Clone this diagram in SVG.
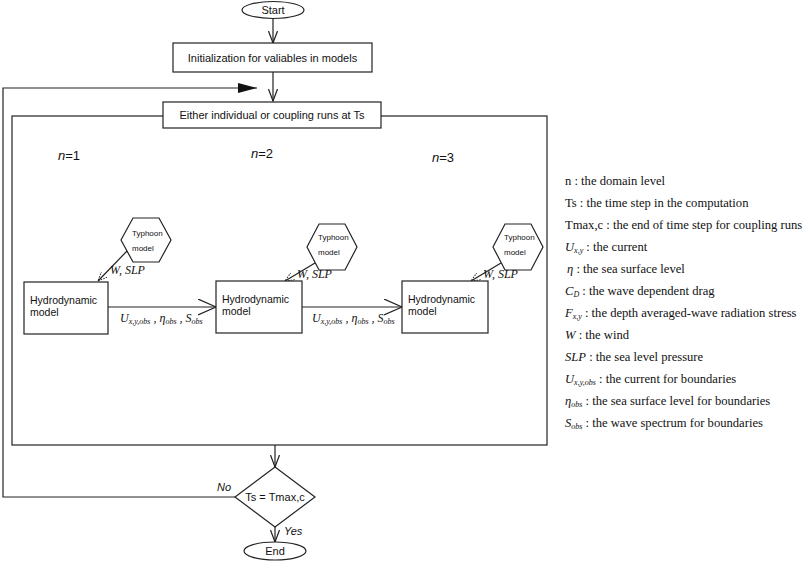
<svg xmlns="http://www.w3.org/2000/svg" width="805" height="562" viewBox="0 0 805 562">
<style>
.s{fill:none;stroke:#222;stroke-width:1.2}
.b{fill:#fff;stroke:#222;stroke-width:1.2}
.t{font-family:"Liberation Sans",Arial,sans-serif;font-size:11px;fill:#111}
.h{font-family:"Liberation Sans",Arial,sans-serif;font-size:10.5px;fill:#111}
.ty{font-family:"Liberation Sans",Arial,sans-serif;font-size:8px;fill:#111}
.n{font-family:"Liberation Sans",Arial,sans-serif;font-size:13px;fill:#111}
.i{font-style:italic}
.r{font-family:"Liberation Serif","Times New Roman",serif;font-size:12.6px;fill:#111}
.m{font-family:"Liberation Serif","Times New Roman",serif;font-size:12px;font-style:italic;fill:#111}
.sub{font-size:8px}
</style>
<defs>
<marker id="v" markerUnits="userSpaceOnUse" markerWidth="14" markerHeight="10" refX="12" refY="4.5" orient="auto">
<path d="M0,0 L12,4.5 L0,9" fill="none" stroke="#222" stroke-width="1.2"/>
</marker>
<marker id="vb" markerUnits="userSpaceOnUse" markerWidth="20" markerHeight="18" refX="18" refY="8" orient="auto">
<path d="M0,0 L18,8 L0,16" fill="none" stroke="#222" stroke-width="1.2"/>
</marker>
<marker id="f" markerUnits="userSpaceOnUse" markerWidth="20" markerHeight="12" refX="19" refY="5" orient="auto">
<path d="M0,0 L19,5 L0,10 z" fill="#111"/>
</marker>
<marker id="d" markerUnits="userSpaceOnUse" markerWidth="12" markerHeight="10" refX="9" refY="4" orient="auto">
<path d="M0,0 L9,4 L0,8" fill="none" stroke="#222" stroke-width="1" stroke-dasharray="1.5 1.2"/>
</marker>
</defs>

<g id="frame">
<rect class="s" x="12" y="116" width="535" height="329" stroke="#444"/>
</g>

<g id="connectors">
<line class="s" x1="273" y1="19" x2="273" y2="43" marker-end="url(#v)"/>
<line class="s" x1="273" y1="72" x2="273" y2="101" marker-end="url(#v)"/>
<path class="s" d="M235,497 H3 V88 H257" stroke="#444" marker-end="url(#f)"/>
<line class="s" x1="275" y1="445" x2="275" y2="467" marker-end="url(#v)"/>
<line class="s" x1="275" y1="527" x2="275" y2="542" marker-end="url(#v)"/>
<line class="s" x1="108" y1="307" x2="216" y2="307" marker-end="url(#vb)"/>
<line class="s" x1="302" y1="307" x2="402" y2="307" marker-end="url(#vb)"/>
<line class="s" x1="127" y1="251" x2="98" y2="281" marker-end="url(#d)"/>
<line class="s" x1="315" y1="263" x2="285" y2="281" marker-end="url(#d)"/>
<line class="s" x1="501" y1="263" x2="471" y2="281" marker-end="url(#d)"/>
</g>

<g id="start">
<ellipse class="b" cx="273" cy="10" rx="31" ry="8.5"/>
<text class="t" x="273" y="14" text-anchor="middle">Start</text>
</g>
<g id="init">
<rect class="b" x="173" y="43" width="199" height="29"/>
<text class="t" x="272.5" y="61.5" text-anchor="middle">Initialization for valiables in models</text>
</g>
<g id="runs">
<rect class="b" x="163" y="102" width="218" height="26"/>
<text class="t" x="272" y="119" text-anchor="middle">Either individual or coupling runs at Ts</text>
</g>

<g id="labels-n">
<text class="n" x="58" y="160"><tspan class="i">n</tspan>=1</text>
<text class="n" x="251" y="158"><tspan class="i">n</tspan>=2</text>
<text class="n" x="432" y="162"><tspan class="i">n</tspan>=3</text>
</g>

<g id="typhoon1">
<polygon class="b" points="121,240 133,218 159,218 171,240 159,262 133,262"/>
<text class="ty" x="132" y="236">Typhoon</text>
<text class="ty" x="132" y="251">model</text>
</g>
<g id="typhoon2">
<polygon class="b" points="307,247 319,224 345,224 357,247 345,270 319,270"/>
<text class="ty" x="318" y="240">Typhoon</text>
<text class="ty" x="318" y="255">model</text>
</g>
<g id="typhoon3">
<polygon class="b" points="493,247 505,224 531,224 543,247 531,270 505,270"/>
<text class="ty" x="504" y="240">Typhoon</text>
<text class="ty" x="504" y="255">model</text>
</g>

<g id="wslp">
<text class="m" x="110" y="274">W, SLP</text>
<text class="m" x="297" y="278">W, SLP</text>
<text class="m" x="483" y="278">W, SLP</text>
</g>

<g id="hydro1">
<rect class="b" x="24" y="282" width="84" height="52"/>
<text class="h" x="30" y="304">Hydrodynamic</text>
<text class="h" x="30" y="316">model</text>
</g>
<g id="hydro2">
<rect class="b" x="216" y="281" width="86" height="52"/>
<text class="h" x="222" y="303">Hydrodynamic</text>
<text class="h" x="222" y="315">model</text>
</g>
<g id="hydro3">
<rect class="b" x="402" y="281" width="86" height="52"/>
<text class="h" x="408" y="303">Hydrodynamic</text>
<text class="h" x="408" y="315">model</text>
</g>

<g id="bc-labels">
<text class="m" x="120" y="322">U<tspan class="sub" dy="2">x,y,obs</tspan><tspan dy="-2"> , η</tspan><tspan class="sub" dy="2">obs</tspan><tspan dy="-2"> ,  S</tspan><tspan class="sub" dy="2">obs</tspan></text>
<text class="m" x="312" y="322">U<tspan class="sub" dy="2">x,y,obs</tspan><tspan dy="-2"> , η</tspan><tspan class="sub" dy="2">obs</tspan><tspan dy="-2"> ,  S</tspan><tspan class="sub" dy="2">obs</tspan></text>
</g>

<g id="decision">
<polygon class="b" points="275,467 315,497 275,527 235,497"/>
<text class="t" x="275" y="501" text-anchor="middle">Ts = Tmax,c</text>
<text class="t i" x="217" y="491">No</text>
<text class="t i" x="284" y="535">Yes</text>
</g>
<g id="end">
<ellipse class="b" cx="275" cy="551" rx="31" ry="9"/>
<text class="t" x="275" y="555" text-anchor="middle">End</text>
</g>

<g id="legend">
<text class="r" x="565" y="185">n : the domain level</text>
<text class="r" x="565" y="207">Ts : the time step in the computation</text>
<text class="r" x="565" y="229">Tmax,c : the end of time step for coupling runs</text>
<text class="r" x="565" y="251"><tspan class="i">U</tspan><tspan class="sub i" dy="2">x,y</tspan><tspan dy="-2"> : the current</tspan></text>
<text class="r" x="567" y="273"><tspan class="i">η</tspan>  : the sea surface level</text>
<text class="r" x="565" y="295"><tspan class="i">C</tspan><tspan class="sub i" dy="2">D</tspan><tspan dy="-2"> : the wave dependent drag</tspan></text>
<text class="r" x="565" y="317"><tspan class="i">F</tspan><tspan class="sub i" dy="2">x,y</tspan><tspan dy="-2"> : the depth averaged-wave radiation stress</tspan></text>
<text class="r" x="565" y="339"><tspan class="i">W</tspan> : the wind</text>
<text class="r" x="565" y="361"><tspan class="i">SLP</tspan> : the sea level pressure</text>
<text class="r" x="565" y="383"><tspan class="i">U</tspan><tspan class="sub i" dy="2">x,y,obs</tspan><tspan dy="-2"> : the current for boundaries</tspan></text>
<text class="r" x="565" y="405"><tspan class="i">η</tspan><tspan class="sub i" dy="2">obs</tspan><tspan dy="-2">  : the sea surface level for boundaries</tspan></text>
<text class="r" x="565" y="427"><tspan class="i">S</tspan><tspan class="sub i" dy="2">obs</tspan><tspan dy="-2">  : the wave spectrum for boundaries</tspan></text>
</g>
</svg>
